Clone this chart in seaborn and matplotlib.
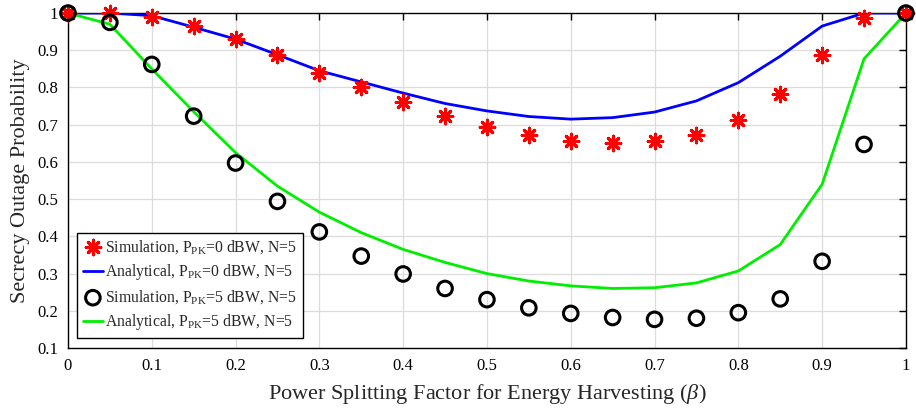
import matplotlib
matplotlib.use("Agg")
import matplotlib.pyplot as plt
import seaborn as sns
import pandas as pd

beta = [0.0, 0.05, 0.1, 0.15, 0.2, 0.25, 0.3, 0.35, 0.4, 0.45, 0.5,
        0.55, 0.6, 0.65, 0.7, 0.75, 0.8, 0.85, 0.9, 0.95, 1.0]

sim_p0 = [1.0, 1.0, 0.989, 0.965, 0.93, 0.887, 0.84, 0.80, 0.76, 0.723, 0.694,
          0.672, 0.656, 0.65, 0.656, 0.672, 0.713, 0.782, 0.887, 0.987, 1.0]
ana_p0 = [1.0, 1.0, 0.993, 0.962, 0.93, 0.888, 0.845, 0.815, 0.785, 0.757, 0.737,
          0.722, 0.715, 0.719, 0.734, 0.764, 0.813, 0.884, 0.965, 1.0, 1.0]
sim_p5 = [1.0, 0.975, 0.862, 0.723, 0.597, 0.494, 0.412, 0.347, 0.299, 0.26, 0.23,
          0.208, 0.193, 0.182, 0.177, 0.18, 0.195, 0.232, 0.333, 0.647, 1.0]
ana_p5 = [1.0, 0.97, 0.85, 0.735, 0.625, 0.535, 0.465, 0.41, 0.365, 0.33, 0.30,
          0.28, 0.267, 0.26, 0.262, 0.275, 0.307, 0.378, 0.54, 0.877, 1.0]

labels = [r"Simulation, P$_{\rm PK}$=0 dBW, N=5",
          r"Analytical, P$_{\rm PK}$=0 dBW, N=5",
          r"Simulation, P$_{\rm PK}$=5 dBW, N=5",
          r"Analytical, P$_{\rm PK}$=5 dBW, N=5"]

df = pd.DataFrame({"beta": beta, "sim0": sim_p0, "ana0": ana_p0,
                   "sim5": sim_p5, "ana5": ana_p5})

sns.set_style("white")
plt.rcParams["font.family"] = ["Liberation Serif", "DejaVu Serif"]
plt.rcParams["mathtext.fontset"] = "custom"
plt.rcParams["mathtext.rm"] = "Liberation Serif"
plt.rcParams["mathtext.it"] = "Liberation Serif:italic"

fig = plt.figure(figsize=(9.16, 4.08), dpi=100)
ax = fig.add_axes([0.0742, 0.147, 0.9148, 0.821])

sns.scatterplot(data=df, x="beta", y="sim0", ax=ax, marker=(8, 2, 0), s=110,
                color="red", edgecolor="red", linewidth=2.2, label=labels[0],
                clip_on=False, zorder=4)
sns.lineplot(data=df, x="beta", y="ana0", ax=ax, color="#0000ff", linewidth=2,
             label=labels[1], zorder=3)
sns.scatterplot(data=df, x="beta", y="sim5", ax=ax, marker="o", s=110,
                facecolor="none", edgecolor="black", linewidth=2.2, label=labels[2],
                clip_on=False, zorder=5)
sns.lineplot(data=df, x="beta", y="ana5", ax=ax, color="#00ee00", linewidth=2,
             label=labels[3], zorder=3)

ax.set_xlim(0, 1)
ax.set_ylim(0.1, 1)
ax.set_xticks([i / 10 for i in range(11)])
ax.set_yticks([i / 10 for i in range(1, 11)])
ax.set_xticklabels(["0", "0.1", "0.2", "0.3", "0.4", "0.5", "0.6", "0.7", "0.8", "0.9", "1"])
ax.set_yticklabels(["0.1", "0.2", "0.3", "0.4", "0.5", "0.6", "0.7", "0.8", "0.9", "1"])
ax.tick_params(direction="in", length=5, width=1, top=True, right=True,
               labelsize=12, colors="black", pad=7)
ax.grid(True, color="#dcdcdc", linewidth=0.9)
ax.set_axisbelow(True)
for sp in ax.spines.values():
    sp.set_color("black")
    sp.set_linewidth(1)

ax.set_xlabel(r"Power Splitting Factor for Energy Harvesting ($\it{\beta}$)", fontsize=16, labelpad=6)
ax.set_ylabel("Secrecy Outage Probability", fontsize=16, labelpad=5)

leg = ax.legend(loc="lower left", bbox_to_anchor=(0.011, 0.03), fontsize=11.3,
                frameon=True, fancybox=False, edgecolor="black", framealpha=1,
                handlelength=1.3, handletextpad=0.15, borderpad=0.35,
                labelspacing=0.4, borderaxespad=0)
leg.get_frame().set_linewidth(1)

fig.savefig("out.png", dpi=100)
